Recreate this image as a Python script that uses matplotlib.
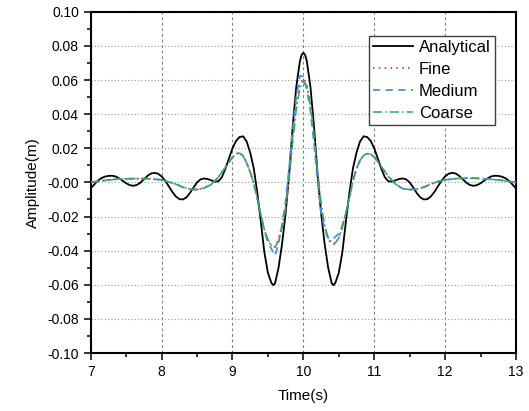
import matplotlib
matplotlib.use('Agg')
import matplotlib.pyplot as plt
from matplotlib.ticker import MultipleLocator, FormatStrFormatter

# analytical solution
t_ana = [7.00, 7.05, 7.10, 7.15, 7.20, 7.25, 7.30, 7.35, 7.40, 7.45,
         7.50, 7.55, 7.60, 7.65, 7.70, 7.75, 7.80, 7.85, 7.90, 7.95,
         8.00, 8.05, 8.10, 8.15, 8.20, 8.25, 8.30, 8.35, 8.40, 8.45,
         8.50, 8.55, 8.60, 8.65, 8.70, 8.75, 8.80, 8.85, 8.90, 8.95,
         9.00, 9.05, 9.10, 9.15, 9.20, 9.25, 9.30, 9.35, 9.40, 9.45,
         9.50, 9.55, 9.575, 9.60, 9.65, 9.70, 9.75, 9.80, 9.85, 9.90,
         9.95, 9.975, 10.00, 10.025, 10.05, 10.10, 10.15, 10.20, 10.25, 10.30,
         10.35, 10.40, 10.425, 10.45, 10.50, 10.55, 10.60, 10.65, 10.70, 10.75,
         10.80, 10.85, 10.90, 10.95, 11.00, 11.05, 11.10, 11.15, 11.20, 11.25,
         11.30, 11.35, 11.40, 11.45, 11.50, 11.55, 11.60, 11.65, 11.70, 11.75,
         11.80, 11.85, 11.90, 11.95, 12.00, 12.05, 12.10, 12.15, 12.20, 12.25,
         12.30, 12.35, 12.40, 12.45, 12.50, 12.55, 12.60, 12.65, 12.70, 12.75,
         12.80, 12.85, 12.90, 12.95, 13.00]
analytical = [-0.0035, -0.0012, 0.0010, 0.0025, 0.0034, 0.0038, 0.0039, 0.0035, 0.0024, 0.0010,
              -0.0005, -0.0016, -0.0020, -0.0015, -0.0002, 0.0018, 0.0038, 0.0052, 0.0056, 0.0051,
              0.0035, 0.0010, -0.0022, -0.0055, -0.0082, -0.0098, -0.0100, -0.0088, -0.0062, -0.0030,
              0.0000, 0.0018, 0.0023, 0.0020, 0.0012, 0.0005, 0.0006, 0.0030, 0.0080, 0.0140,
              0.0200, 0.0243, 0.0266, 0.0270, 0.0240, 0.0175, 0.0083, -0.0060, -0.0230, -0.0410,
              -0.0530, -0.0590, -0.0602, -0.0592, -0.0500, -0.0360, -0.0180, 0.0050, 0.0330, 0.0560,
              0.0708, 0.0747, 0.0760, 0.0747, 0.0708, 0.0560, 0.0330, 0.0050, -0.0180, -0.0360,
              -0.0500, -0.0592, -0.0602, -0.0590, -0.0530, -0.0410, -0.0230, -0.0060, 0.0083, 0.0175,
              0.0240, 0.0270, 0.0266, 0.0243, 0.0200, 0.0140, 0.0080, 0.0030, 0.0006, 0.0005,
              0.0012, 0.0020, 0.0023, 0.0018, 0.0000, -0.0030, -0.0062, -0.0088, -0.0100, -0.0098,
              -0.0082, -0.0055, -0.0022, 0.0010, 0.0035, 0.0051, 0.0056, 0.0052, 0.0038, 0.0018,
              -0.0002, -0.0015, -0.0020, -0.0016, -0.0005, 0.0010, 0.0024, 0.0035, 0.0039, 0.0038,
              0.0034, 0.0025, 0.0010, -0.0012, -0.0035]

# numerical results (three meshes)
t_num = [7.0, 7.2, 7.4, 7.6, 7.8, 8.0, 8.1, 8.2, 8.3, 8.4,
         8.5, 8.6, 8.7, 8.8, 8.9, 9.0, 9.05, 9.1, 9.15, 9.2,
         9.25, 9.3, 9.35, 9.4, 9.45, 9.5, 9.55, 9.6, 9.65, 9.7,
         9.75, 9.8, 9.85, 9.9, 9.95, 10.0, 10.05, 10.1, 10.15, 10.2,
         10.25, 10.3, 10.35, 10.4, 10.45, 10.5, 10.55, 10.6, 10.65, 10.7,
         10.75, 10.8, 10.85, 10.9, 10.95, 11.0, 11.1, 11.2, 11.3, 11.4,
         11.5, 11.6, 11.7, 11.8, 11.9, 12.0, 12.2, 12.4, 12.6, 12.8,
         13.0]
fine = [0.0000, 0.0012, 0.0020, 0.0022, 0.0022, 0.0015, 0.0003, -0.0010, -0.0028, -0.0040,
        -0.0042, -0.0033, -0.0012, 0.0030, 0.0088, 0.0148, 0.0168, 0.0172, 0.0155, 0.0115,
        0.0060, -0.0005, -0.0095, -0.0190, -0.0280, -0.0340, -0.0372, -0.0378, -0.0330, -0.0250,
        -0.0140, 0.0050, 0.0270, 0.0460, 0.0575, 0.0610, 0.0570, 0.0450, 0.0260, 0.0040,
        -0.0150, -0.0265, -0.0335, -0.0360, -0.0362, -0.0325, -0.0260, -0.0180, -0.0090, 0.0010,
        0.0080, 0.0130, 0.0158, 0.0168, 0.0165, 0.0150, 0.0092, 0.0035, -0.0010, -0.0036,
        -0.0042, -0.0040, -0.0028, -0.0010, 0.0005, 0.0015, 0.0024, 0.0025, 0.0020, 0.0012,
        0.0000]
medium = [0.0000, 0.0012, 0.0020, 0.0022, 0.0022, 0.0015, 0.0003, -0.0010, -0.0028, -0.0040,
          -0.0042, -0.0033, -0.0012, 0.0030, 0.0088, 0.0148, 0.0168, 0.0172, 0.0155, 0.0115,
          0.0060, -0.0005, -0.0095, -0.0190, -0.0285, -0.0350, -0.0390, -0.0430, -0.0355, -0.0245,
          -0.0110, 0.0090, 0.0310, 0.0500, 0.0625, 0.0620, 0.0545, 0.0420, 0.0230, 0.0010,
          -0.0175, -0.0275, -0.0325, -0.0335, -0.0320, -0.0300, -0.0250, -0.0180, -0.0090, 0.0010,
          0.0080, 0.0130, 0.0158, 0.0168, 0.0165, 0.0150, 0.0092, 0.0035, -0.0010, -0.0036,
          -0.0042, -0.0040, -0.0028, -0.0010, 0.0005, 0.0015, 0.0024, 0.0025, 0.0020, 0.0012,
          0.0000]
coarse = [0.0000, 0.0012, 0.0020, 0.0022, 0.0022, 0.0015, 0.0003, -0.0010, -0.0028, -0.0040,
          -0.0042, -0.0033, -0.0012, 0.0030, 0.0088, 0.0148, 0.0168, 0.0172, 0.0155, 0.0115,
          0.0060, -0.0005, -0.0095, -0.0190, -0.0275, -0.0335, -0.0368, -0.0380, -0.0345, -0.0265,
          -0.0155, 0.0025, 0.0235, 0.0425, 0.0550, 0.0590, 0.0560, 0.0460, 0.0280, 0.0070,
          -0.0120, -0.0250, -0.0325, -0.0350, -0.0355, -0.0325, -0.0265, -0.0180, -0.0090, 0.0010,
          0.0080, 0.0130, 0.0158, 0.0168, 0.0165, 0.0150, 0.0092, 0.0035, -0.0010, -0.0036,
          -0.0042, -0.0040, -0.0028, -0.0010, 0.0005, 0.0015, 0.0024, 0.0025, 0.0020, 0.0012,
          0.0000]

plt.rcParams['font.family'] = ['Liberation Sans', 'DejaVu Sans']
plt.rcParams['axes.unicode_minus'] = False

fig = plt.figure(figsize=(5.29, 4.11), dpi=100)
ax = fig.add_axes([0.1715, 0.1411, 0.8039, 0.8302])

ax.plot(t_ana, analytical, color='black', lw=1.3, label='Analytical', zorder=3)
ax.plot(t_num, fine, color='#e8312f', lw=1.2, ls=(0, (1, 2.5)), label='Fine', zorder=4)
ax.plot(t_num, medium, color='#4a8fe7', lw=1.3, ls=(0, (4, 3)), label='Medium', zorder=4)
ax.plot(t_num, coarse, color='#2eaa5e', lw=1.1, ls=(0, (6, 2, 1, 2)), label='Coarse', zorder=5)

ax.set_xlim(7, 13)
ax.set_ylim(-0.10, 0.10)
ax.xaxis.set_major_locator(MultipleLocator(1))
ax.xaxis.set_minor_locator(MultipleLocator(0.5))
ax.yaxis.set_major_locator(MultipleLocator(0.02))
ax.yaxis.set_minor_locator(MultipleLocator(0.01))
ax.yaxis.set_major_formatter(FormatStrFormatter('%.2f'))

ax.xaxis.grid(True, which='major', color='#7f7f7f', lw=0.8, ls=(0, (2.5, 2.5)))
ax.yaxis.grid(True, which='major', color='#9a9a9a', lw=0.8, ls=(0, (1, 2)))
ax.set_axisbelow(True)

ax.tick_params(which='both', direction='out', top=False, right=False, labelsize=10, width=1.1)
ax.tick_params(which='major', length=5)
ax.tick_params(which='minor', length=3)
for sp in ax.spines.values():
    sp.set_linewidth(1.5)

ax.set_xlabel('Time(s)', fontsize=11, labelpad=7)
ax.set_ylabel('Amplitude(m)', fontsize=11, labelpad=5)

leg = ax.legend(loc='upper right', bbox_to_anchor=(0.9506, 0.930), borderaxespad=0,
                fontsize=12, handlelength=2.4, handletextpad=0.35, labelspacing=0.42,
                borderpad=0.25, fancybox=False, framealpha=1, edgecolor='#404040')
leg.get_frame().set_linewidth(1.0)

fig.savefig('out.png', dpi=100)
